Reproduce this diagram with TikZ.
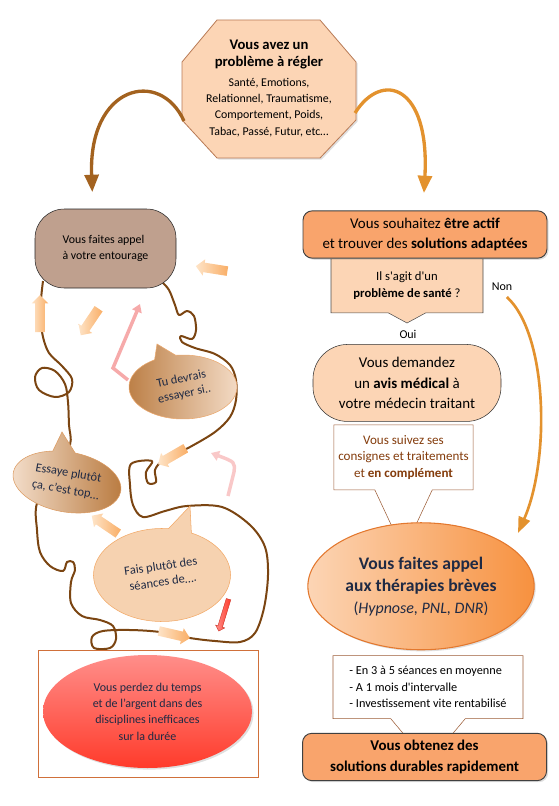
\documentclass[tikz,border=0pt]{standalone}
\usepackage{fontspec}
\setmainfont{Carlito}
\usetikzlibrary{arrows.meta,positioning,shapes.geometric,shapes.callouts,shapes.arrows,shadows}

\definecolor{peche}{HTML}{FCD5B5}
\definecolor{orangebox}{HTML}{F9A46C}
\definecolor{bordoct}{HTML}{B87A55}
\definecolor{taupe}{HTML}{BFA08E}
\definecolor{fil}{HTML}{7B4512}
\definecolor{marine}{HTML}{1F2A44}
\definecolor{brunarc}{HTML}{A3621F}
\definecolor{orarc}{HTML}{E3922E}
\definecolor{brunnote}{HTML}{9C5C36}
\definecolor{textebrun}{HTML}{843C0C}
\definecolor{flecheclair}{HTML}{FEE4C8}
\definecolor{flechefonce}{HTML}{F9AE66}
\definecolor{rose}{HTML}{F6AAAA}
\definecolor{roseclair}{HTML}{F9C8C8}
\definecolor{rouge}{HTML}{FF3B2B}
\definecolor{rougeclair}{HTML}{FF8E8A}
\definecolor{brunbulle}{HTML}{B97A3F}
\definecolor{clairbulle}{HTML}{F3DAC4}
\definecolor{bordbulle}{HTML}{EAA86E}
\definecolor{fais}{HTML}{F6D2B0}
\definecolor{bordfais}{HTML}{F2A866}
\definecolor{cadre}{HTML}{D0703A}
\definecolor{bordbreves}{HTML}{E3782E}
\definecolor{orfonce}{HTML}{F7913F}

\newcommand\grasoct{\fontsize{11}{15.5}\selectfont\bfseries}
\newcommand\grasbreves{\fontsize{13.2}{18.75}\selectfont\bfseries}

\begin{document}
\begin{tikzpicture}[x=0.75pt, y=-0.75pt,
  ombre/.style={drop shadow={opacity=0.25, shadow xshift=1.2pt, shadow yshift=-1.2pt}},
  octo/.style={draw=bordoct, fill=peche, line width=0.6pt},
  taupebox/.style={rectangle, rounded corners=22pt, draw=black!85, fill=taupe, minimum width=105.75pt,
    minimum height=59.25pt, align=left, font=\fontsize{8.9}{12}\selectfont},
  boxorange/.style={rectangle, rounded corners=7pt, draw=black!75, line width=0.7pt, fill=orangebox,
    minimum width=183pt, minimum height=35.5pt, align=center},
  question/.style={rectangle callout, draw=black!70, fill=peche, minimum width=114pt, minimum height=40.5pt,
    callout pointer width=28pt, align=center, font=\fontsize{9.5}{12.75}\selectfont},
  etiquette/.style={inner sep=1pt, font=\fontsize{9}{11}\selectfont},
  avis/.style={rectangle, rounded corners=26pt, draw=black!80, fill=peche, minimum width=141pt,
    minimum height=57.75pt, align=center, font=\fontsize{11.2}{15.5}\selectfont},
  note/.style={rectangle callout, draw=brunnote, fill=white, align=center},
  therapie/.style={ellipse, draw=bordbreves, line width=0.8pt, left color=peche, middle color=peche!80!orfonce,
    right color=orfonce, minimum width=163.5pt, minimum height=95.25pt, align=center, text=marine},
  bulle/.style={ellipse callout, callout pointer arc=24, inner sep=0pt, text=marine},
  fleche/.style={single arrow, single arrow head extend=2.6pt, inner sep=3.4pt, minimum width=0pt,
    minimum height=24pt, draw=none, left color=flecheclair, right color=flechefonce},
  fleche rouge/.style={single arrow, single arrow head extend=1.8pt, inner sep=1.6pt, minimum width=0pt,
    minimum height=25pt, draw=rouge!80!black, line width=0.3pt, left color=rougeclair, right color=rouge},
  arc/.style={line width=2.5pt, -{Triangle[length=13pt,width=10.5pt]}},
  rosefleche/.style={line width=2.6pt, -{Triangle[length=6pt,width=7.5pt]}},
  filbrun/.style={draw=fil, line width=1.5pt, line join=round}
]
\useasboundingbox (0,0) rectangle (559,806);

% probleme de depart
\path[octo, ombre] (217,20) -- (320,20) -- (356,62) -- (356,120) -- (320,158) -- (217,158)
  -- (182,120) -- (182,62) -- cycle;
\coordinate (oct gauche) at (184,121);
\coordinate (oct droite) at (355,113);
\node[align=center, font=\fontsize{8.9}{12.2}\selectfont] (probleme) at (269,88.5)
  {\grasoct Vous avez un\\\grasoct problème à régler\\[3pt]
   Santé, Emotions,\\Relationnel, Traumatisme,\\Comportement, Poids,\\Tabac, Passé, Futur, etc…};

% colonne de gauche : l'entourage
\draw[filbrun] plot[smooth, tension=0.55] coordinates {
  (43,281) (41,300) (41,320) (43,337) (49,353) (62,366) (72,379) (69,392) (55,397) (39,390)
  (35,377) (42,368) (55,371) (65,384) (68,402) (69,425) (70,445) (55,470) (37,503) (37,530)
  (40,552) (50,566) (63,571) (67,562) (73,562) (75,570) (71,582) (71,603) (82,616) (100,620)
  (113,626) (116,639) (110,648) (94,648) (92,637) (103,631) (130,630) (160,632) (190,638)
  (215,641) (240,642) (255,633) (264,608) (268,575) (265,547) (250,525) (222,507) (187,506)
  (165,511) (143,517) (133,505) (130,485) (131,464) (152,461) (146,472) (148,483) (156,482)
  (155,470) (162,461) (175,454) (190,447) (215,432) (230,417) (236,400) (236,380) (230,365)
  (215,354) (195,348) (182,342) (181,336) (192,339) (196,330) (194,316) (187,311) (179,315)
  (175,305) (169,290) (162,282)};

\node[taupebox] (entourage) at (105.5,248.5) {Vous faites appel\\à votre entourage};

\node[bulle, minimum width=81pt, minimum height=48pt, left color=brunbulle, right color=clairbulle,
  draw=bordbulle, callout absolute pointer={(157,344)}, font=\fontsize{9.2}{11.5}\selectfont]
  (tudevrais) at (183,387) {\rotatebox{12}{\begin{tabular}{@{}c@{}}Tu devrais\\essayer si..\end{tabular}}};
\node[bulle, minimum width=81.75pt, minimum height=45pt, left color=clairbulle!80!white, right color=brunbulle,
  draw=bordbulle!70!brunbulle, callout absolute pointer={(62,432)}, rotate=-10, align=center,
  font=\fontsize{9.3}{12.75}\selectfont]
  (essaye) at (67,482) {Essaye plutôt\\ça, c’est top…};
\node[bulle, minimum width=102.75pt, minimum height=69.75pt, fill=fais, draw=bordfais, callout pointer arc=20,
  callout absolute pointer={(190,506)}, font=\fontsize{9.4}{12}\selectfont]
  (fais) at (162,575) {\rotatebox{8}{\begin{tabular}{@{}c@{}}Fais plutôt des\\séances de….\end{tabular}}};

\node[fleche, rotate=171] (f1) at (214,269) {};
\node[fleche, rotate=90, minimum height=27.75pt] (f2) at (40,316) {};
\node[fleche, rotate=236] (f3) at (91,320) {};
\node[fleche, rotate=210] (f4) at (174,455) {};
\node[fleche, rotate=146] (f5) at (107,526) {};
\node[fleche, rotate=-13] (f6) at (172,634) {};
\node[fleche rouge, rotate=253] (f7) at (224,614) {};

\coordinate (r1a) at (128,380);
\coordinate (r1b) at (113,368);
\coordinate (r1c) at (140,304);
\draw[rosefleche, rose] (r1a) -- (r1b) -- (r1c);
\coordinate (r2a) at (228,496);
\coordinate (r2b) at (234,472);
\coordinate (r2c) at (211,453);
\draw[rosefleche, roseclair] (r2a) -- (r2b) .. controls (235,462) .. (r2c);

\node[draw=cadre, line width=0.7pt, minimum width=165pt, minimum height=95.25pt] (cadre) at (148,713.5) {};
\node[ellipse, top color=rougeclair, bottom color=rouge, minimum width=156.75pt, minimum height=84.75pt,
  ombre, text=marine, align=center, font=\fontsize{9}{12.2}\selectfont] (perte) at (147.5,711.5)
  {Vous perdez du temps\\et de l’argent dans des\\disciplines inefficaces\\sur la durée};

% colonne de droite : les therapies breves
\node[boxorange, ombre, font=\fontsize{11.2}{15}\selectfont] (souhait) at (425,234.5)
  {Vous souhaitez \textbf{être actif}\\et trouver des \textbf{solutions adaptées}};
\node[question, below=0pt of souhait, xshift=-13.5pt, callout absolute pointer={(407,323)}] (sante)
  {Il s\textquotesingle agit d\textquotesingle un\\\textbf{problème de santé} ?};
\node[etiquette] (non) at (502,287) {Non};
\node[avis, below=23.25pt of sante] (medical) {Vous demandez\\un \textbf{avis médical} à\\votre médecin traitant};
\node[etiquette] (oui) at (408,334) {Oui};
\node[note, below=2.25pt of medical, xshift=-2.6pt, minimum width=104.25pt, minimum height=48.75pt,
  callout relative pointer={(0pt,-46pt)}, callout pointer width=43pt, text=textebrun,
  font=\fontsize{9.8}{12.4}\selectfont] (suivi)
  {Vous suivez ses\\consignes et traitements\\et \textbf{en complément}};
\node[therapie, ombre, below=24pt of suivi, xshift=13.1pt, font=\fontsize{12}{16.5}\selectfont] (breves)
  {\grasbreves Vous faites appel\\\grasbreves aux thérapies brèves\\(\textit{Hypnose, PNL, DNR})};
\node[note, below=3.75pt of breves, xshift=5.25pt, minimum width=142.5pt, minimum height=47.25pt,
  callout relative pointer={(0pt,-33.4pt)}, callout pointer width=56pt, align=left,
  font=\fontsize{9.2}{12.4}\selectfont] (seances)
  {- En 3 à 5 séances en moyenne\\- A 1 mois d\textquotesingle intervalle\\- Investissement vite rentabilisé};
\node[boxorange, ombre, below=10.5pt of seances, xshift=-2.6pt, font=\fontsize{11.2}{15.75}\selectfont\bfseries]
  (durable) {Vous obtenez des\\solutions durables rapidement};

% fleches courbes
\coordinate (nonfin) at (518,533);
\draw[arc, brunarc, shorten >=12.5pt] (oct gauche) .. controls (160,68) and (88,85) .. ([xshift=-9.4pt]entourage.north);
\draw[arc, orarc, shorten >=13pt] (oct droite) .. controls (382,70) and (430,85) .. ([xshift=-1.5pt]souhait.north);
\draw[orarc, line width=2pt, shorten <=5pt, -{Triangle[length=12pt,width=9pt]}]
  (non.south) .. controls (548,335) and (550,460) .. (nonfin);
\end{tikzpicture}
\end{document}
